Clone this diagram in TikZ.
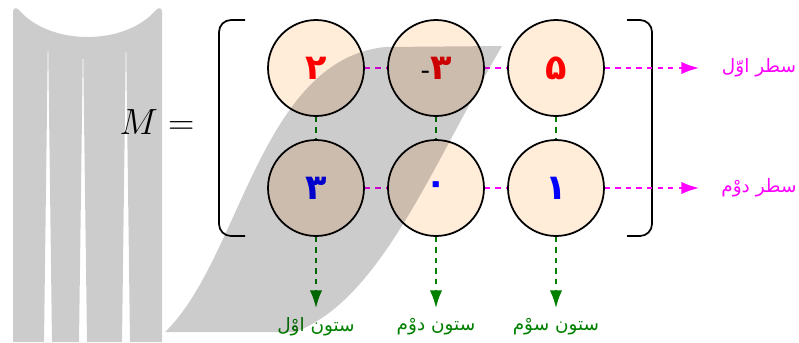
\documentclass[tikz,border=0pt]{standalone}
\usepackage{fontspec}
\newfontfamily\arabicfont[Script=Arabic]{DejaVu Sans}
\TeXXeTstate=1
\usepackage{tikz}
\usetikzlibrary{arrows.meta}
\definecolor{rowpink}{RGB}{255,0,255}
\definecolor{colgreen}{RGB}{0,128,0}
\tikzset{
	cell/.style={circle, draw, line width=1pt, fill=orange!15, minimum size=1.92cm, font=\arabicfont\bfseries\fontsize{20}{24}\selectfont},
	rowlink/.style={rowpink, dashed, line width=1pt},
	collink/.style={colgreen, dashed, line width=1pt},
	tip/.style={-{Latex[length=10pt,width=7pt]}},
	rowlabel/.style={rowpink, font=\arabicfont\fontsize{10.5}{12}\selectfont},
	collabel/.style={colgreen, font=\arabicfont\fontsize{10.5}{12}\selectfont},
	shade/.style={fill=black, fill opacity=0.2, even odd rule}
}
\begin{document}
\begin{tikzpicture}[x=0.02cm,y=-0.02cm]
				\useasboundingbox (0,0) rectangle (799,342);
				%%%nodes
				\node at (157,122) (M){\huge $M=$};
				%row 1
				\node[cell] at (316,68) (A11){\color{red}۲};
				\node[cell] at (436,68) (A12){{\color{black}\mdseries\fontsize{15}{18}\selectfont -}\color{red}۳};
				\node[cell] at (556,68) (A13){\color{red}۵};
				%row 2
				\node[cell] at (316,188) (A21){\color{blue}۳};
				\node[cell] at (436,188) (A22){\color{blue}۰};
				\node[cell] at (556,188) (A23){\color{blue}۱};
				%arrow ends
				\coordinate (R1) at (699,68);
				\coordinate (R2) at (699,188);
				\coordinate (C1) at (316,308);
				\coordinate (C2) at (436,308);
				\coordinate (C3) at (556,308);
				%labels
				\node[rowlabel] at (759,68) (L1){\beginR سطر اوّل\endR};
				\node[rowlabel] at (759,188) (L2){\beginR سطر دوْم\endR};
				\node[collabel] at (316,327) (K1){\beginR ستون اوْل\endR};
				\node[collabel] at (436,327) (K2){\beginR ستون دوْم\endR};
				\node[collabel] at (556,327) (K3){\beginR ستون سوْم\endR};
				%%%brackets
				\draw[line width=1pt, rounded corners=0.24cm] (245,20) -- (219,20) -- (219,236) -- (245,236);
				\draw[line width=1pt, rounded corners=0.24cm] (627,20) -- (652,20) -- (652,236) -- (627,236);
				%%%links
				%rows
				\draw[rowlink] (A11) -- (A12);
				\draw[rowlink] (A12) -- (A13);
				\draw[rowlink, tip] (A13) -- (R1);
				\draw[rowlink] (A21) -- (A22);
				\draw[rowlink] (A22) -- (A23);
				\draw[rowlink, tip] (A23) -- (R2);
				%columns
				\draw[collink] (A11) -- (A21);
				\draw[collink] (A12) -- (A22);
				\draw[collink] (A13) -- (A23);
				\draw[collink, tip] (A21) -- (C1);
				\draw[collink, tip] (A22) -- (C2);
				\draw[collink, tip] (A23) -- (C3);
				%%%grey overlay
				\path[shade] (13,342) -- (13,12) .. controls (13,8) and (16,7) .. (19,10) .. controls (50,46) and (125,46) .. (156,10) .. controls (159,7) and (162,8) .. (162,12) -- (162,342) -- cycle
					(48,32) -- (52,342) -- (44,342) -- cycle
					(83,40) -- (87,342) -- (79,342) -- cycle
					(126,33) -- (130,342) -- (122,342) -- cycle;
				\path[shade] (165,332) .. controls (240,260) and (260,60) .. (385,47) -- (502,46) .. controls (430,170) and (380,300) .. (295,332) -- cycle;
			\end{tikzpicture}
\end{document}
